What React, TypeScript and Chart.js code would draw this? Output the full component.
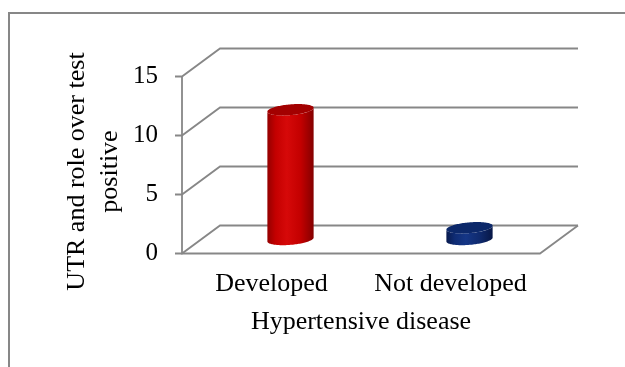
import { useEffect, useRef } from "react";
import { Chart, registerables } from "chart.js";

Chart.register(...registerables);

// Chart content
const categories = ["Developed", "Not developed"];
const values = [11, 1];
const yTickValues = [0, 5, 10, 15];
const yTitleLines = ["UTR and role over test", "positive"];
const xTitle = "Hypertensive disease";

// Oblique 3D look: offset of the back wall from the front plane
const DEPTH_X = 38;
const DEPTH_Y = -28;
const SERIF = "'Liberation Serif', 'Times New Roman', serif";
const LINE = "#878787";

const cylinderColors = [
  { body: ["#940000", "#c40000", "#d60909", "#c30000", "#840000"], top: "#a30000" },
  { body: ["#081a4e", "#0f2c74", "#153686", "#0f2a6e", "#071746"], top: "#0c286a" },
];

function drawCylinder(
  ctx: CanvasRenderingContext2D,
  cx: number,
  topY: number,
  baseY: number,
  r: number,
  colors: { body: string[]; top: string }
) {
  const len = Math.hypot(DEPTH_X, DEPTH_Y);
  const ux = DEPTH_X / len;
  const uy = DEPTH_Y / len;
  const s = r * 0.44; // foreshortened radius along the depth axis
  const pt = (cy: number, t: number) => [
    cx + r * Math.cos(t) + s * ux * Math.sin(t),
    cy + s * uy * Math.sin(t),
  ];
  const t0 = Math.atan2(s * ux, r); // right-most point of the ellipse
  const half = Math.hypot(r, s * ux);
  const N = 60;

  // side surface: front half of the base ellipse + front half of the top ellipse
  ctx.beginPath();
  for (let k = 0; k <= N; k++) {
    const [px, py] = pt(baseY, t0 - (Math.PI * k) / N);
    k === 0 ? ctx.moveTo(px, py) : ctx.lineTo(px, py);
  }
  for (let k = 0; k <= N; k++) {
    const [px, py] = pt(topY, t0 - Math.PI + (Math.PI * k) / N);
    ctx.lineTo(px, py);
  }
  ctx.closePath();
  const g = ctx.createLinearGradient(cx - half, 0, cx + half, 0);
  const stops = [0, 0.18, 0.42, 0.72, 1];
  colors.body.forEach((c, i) => g.addColorStop(stops[i], c));
  ctx.fillStyle = g;
  ctx.fill();

  // top cap
  ctx.beginPath();
  for (let k = 0; k <= 2 * N; k++) {
    const [px, py] = pt(topY, (Math.PI * k) / N);
    k === 0 ? ctx.moveTo(px, py) : ctx.lineTo(px, py);
  }
  ctx.closePath();
  ctx.fillStyle = colors.top;
  ctx.fill();
}

const backgroundAndFrame = {
  id: "backgroundAndFrame",
  beforeDraw(chart: Chart) {
    const { ctx, width, height } = chart;
    ctx.save();
    ctx.fillStyle = "#ffffff";
    ctx.fillRect(0, 0, width, height);
    ctx.strokeStyle = LINE;
    ctx.lineWidth = 2;
    ctx.beginPath();
    ctx.moveTo(9, height);
    ctx.lineTo(9, 13);
    ctx.lineTo(width, 13);
    ctx.stroke();
    ctx.restore();
  },
};

const walls3d = {
  id: "walls3d",
  beforeDatasetsDraw(chart: Chart) {
    const { ctx, chartArea, scales } = chart;
    const { left, right } = chartArea;
    const y = scales.y;
    ctx.save();
    ctx.strokeStyle = LINE;
    ctx.lineWidth = 1.8;
    ctx.lineJoin = "miter";
    yTickValues.forEach((v) => {
      const py = y.getPixelForValue(v);
      ctx.beginPath();
      ctx.moveTo(left - 7, py);
      ctx.lineTo(left, py);
      ctx.lineTo(left + DEPTH_X, py + DEPTH_Y);
      ctx.lineTo(right + DEPTH_X, py + DEPTH_Y);
      ctx.stroke();
    });
    const y0 = y.getPixelForValue(0);
    const yTop = y.getPixelForValue(yTickValues[yTickValues.length - 1]);
    ctx.beginPath();
    ctx.moveTo(left, yTop);
    ctx.lineTo(left, y0);
    ctx.lineTo(right, y0);
    ctx.lineTo(right + DEPTH_X, y0 + DEPTH_Y);
    ctx.stroke();
    ctx.restore();
  },
};

const cylinders = {
  id: "cylinders",
  afterDatasetsDraw(chart: Chart) {
    const { ctx } = chart;
    const meta = chart.getDatasetMeta(0);
    ctx.save();
    meta.data.forEach((bar: any, i: number) => {
      const { x, y, base, width } = bar.getProps(["x", "y", "base", "width"], true);
      drawCylinder(
        ctx,
        x + DEPTH_X / 2,
        y + DEPTH_Y / 2,
        base + DEPTH_Y / 2,
        width / 2,
        cylinderColors[i % cylinderColors.length]
      );
    });
    ctx.restore();
  },
};

const yAxisTitle = {
  id: "yAxisTitle",
  afterDraw(chart: Chart) {
    const { ctx } = chart;
    ctx.save();
    ctx.translate(77, 171.5);
    ctx.rotate(-Math.PI / 2);
    ctx.font = `26px ${SERIF}`;
    ctx.fillStyle = "#000000";
    ctx.textAlign = "center";
    ctx.textBaseline = "middle";
    yTitleLines.forEach((line, i) => ctx.fillText(line, 0, i * 33));
    ctx.restore();
  },
};

export default function App() {
  const canvasRef = useRef<HTMLCanvasElement | null>(null);

  useEffect(() => {
    const canvas = canvasRef.current;
    if (!canvas) return;
    const chart = new Chart(canvas, {
      type: "bar",
      data: {
        labels: categories,
        datasets: [
          {
            data: values,
            backgroundColor: "rgba(0,0,0,0)",
            borderWidth: 0,
            barPercentage: 0.2435,
            categoryPercentage: 1,
          },
        ],
      },
      options: {
        responsive: false,
        animation: false,
        events: [],
        layout: { padding: { left: 0, top: 76.5, right: 85, bottom: 0 } },
        plugins: {
          legend: { display: false },
          tooltip: { enabled: false },
        },
        scales: {
          x: {
            grid: { display: false, drawTicks: false },
            border: { display: false },
            ticks: {
              color: "#000000",
              font: { family: SERIF, size: 26 },
              padding: 15,
              maxRotation: 0,
              autoSkip: false,
            },
            title: {
              display: true,
              text: xTitle,
              color: "#000000",
              font: { family: SERIF, size: 26 },
              padding: { top: 0, bottom: 29 },
            },
            afterFit: (s: any) => {
              s.height = 113.5;
            },
          },
          y: {
            min: 0,
            max: 15,
            grid: { display: false, drawTicks: false },
            border: { display: false },
            ticks: {
              stepSize: 5,
              color: "#000000",
              font: { family: SERIF, size: 25 },
              padding: 24,
            },
            afterFit: (s: any) => {
              s.width = 182;
            },
          },
        },
      },
      plugins: [backgroundAndFrame, walls3d, cylinders, yAxisTitle],
    });
    return () => chart.destroy();
  }, []);

  return (
    <div style={{ position: "absolute", left: 0, top: 0, width: 625, height: 367 }}>
      <canvas ref={canvasRef} width={625} height={367} style={{ display: "block" }} />
    </div>
  );
}
